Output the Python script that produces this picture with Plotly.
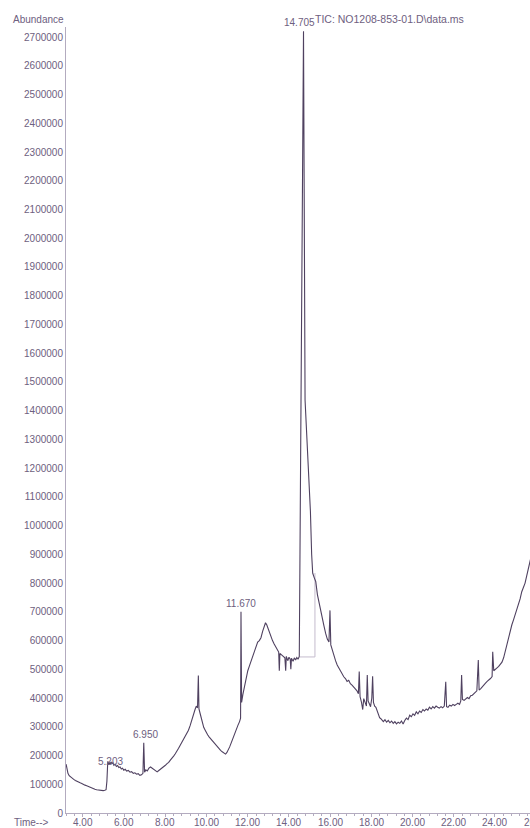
import plotly.graph_objects as go

# ---- data (time in min, abundance) ----
time_min = [
    3.18, 3.22, 3.27, 3.33, 3.40, 3.48, 3.55, 3.63, 3.70, 3.78, 3.86, 3.94,
    4.02, 4.10, 4.18, 4.26, 4.34, 4.42, 4.50, 4.58, 4.66, 4.74, 4.82, 4.90,
    4.98, 5.06, 5.12, 5.16, 5.19, 5.203, 5.24, 5.28, 5.32, 5.36, 5.40, 5.45,
    5.50, 5.56, 5.62, 5.68, 5.74, 5.80, 5.86, 5.92, 5.98, 6.05, 6.12, 6.20,
    6.28, 6.36, 6.44, 6.52, 6.60, 6.68, 6.76, 6.84, 6.91, 6.95, 6.99, 7.05,
    7.12, 7.20, 7.28, 7.36, 7.44, 7.52, 7.60, 7.68, 7.76, 7.84, 7.92, 8.00,
    8.08, 8.16, 8.24, 8.32, 8.40, 8.48, 8.56, 8.64, 8.72, 8.80, 8.88, 8.96,
    9.04, 9.12, 9.20, 9.28, 9.36, 9.44, 9.50, 9.56, 9.60, 9.63, 9.68, 9.74,
    9.80, 9.86, 9.92, 9.98, 10.05, 10.12, 10.20, 10.28, 10.36, 10.44, 10.52, 10.60,
    10.68, 10.76, 10.84, 10.92, 10.98, 11.05, 11.12, 11.20, 11.28, 11.36, 11.44, 11.52,
    11.60, 11.65, 11.67, 11.70, 11.76, 11.84, 11.92, 12.00, 12.08, 12.16, 12.24, 12.32,
    12.40, 12.48, 12.56, 12.64, 12.72, 12.80, 12.86, 12.92, 12.98, 13.05, 13.12, 13.20,
    13.28, 13.36, 13.44, 13.50, 13.53, 13.56, 13.64, 13.72, 13.80, 13.84, 13.87, 13.94,
    14.00, 14.06, 14.09, 14.12, 14.20, 14.26, 14.32, 14.38, 14.44, 14.50, 14.705, 14.78,
    14.95, 15.04, 15.10, 15.15, 15.22, 15.30, 15.38, 15.46, 15.54, 15.62, 15.70, 15.78,
    15.86, 15.94, 15.99, 16.03, 16.10, 16.18, 16.26, 16.34, 16.42, 16.50, 16.58, 16.66,
    16.74, 16.82, 16.90, 16.98, 17.06, 17.14, 17.22, 17.30, 17.37, 17.41, 17.45, 17.52,
    17.58, 17.63, 17.70, 17.76, 17.80, 17.84, 17.90, 17.96, 18.02, 18.06, 18.10, 18.16,
    18.22, 18.28, 18.34, 18.40, 18.46, 18.52, 18.58, 18.66, 18.74, 18.82, 18.90, 18.98,
    19.06, 19.14, 19.22, 19.30, 19.38, 19.46, 19.54, 19.62, 19.70, 19.78, 19.86, 19.94,
    20.02, 20.10, 20.18, 20.26, 20.34, 20.42, 20.50, 20.58, 20.66, 20.74, 20.82, 20.90,
    20.98, 21.06, 21.14, 21.22, 21.30, 21.38, 21.46, 21.54, 21.61, 21.65, 21.72, 21.80,
    21.88, 21.96, 22.04, 22.12, 22.20, 22.28, 22.34, 22.38, 22.42, 22.50, 22.58, 22.66,
    22.74, 22.82, 22.90, 22.98, 23.06, 23.12, 23.19, 23.23, 23.30, 23.38, 23.46, 23.54,
    23.62, 23.70, 23.78, 23.86, 23.89, 23.94, 24.02, 24.10, 24.18, 24.26, 24.34, 24.42,
    24.50, 24.58, 24.66, 24.74, 24.82, 24.90, 24.98, 25.06, 25.14, 25.22, 25.30, 25.38,
    25.46, 25.54, 25.62, 25.70, 25.78,
]
abundance = [
    170000, 150000, 138000, 130000, 125000, 120000, 117000, 113000, 110000, 108000, 105000, 103000,
    99000, 97000, 95000, 92000, 90000, 87000, 85000, 83000, 81000, 80000, 79000, 78000,
    78000, 79000, 81000, 110000, 160000, 180000, 168000, 176000, 170000, 178000, 172000, 175000,
    166000, 170000, 162000, 165000, 158000, 160000, 153000, 156000, 149000, 152000, 146000, 148000,
    142000, 144000, 138000, 140000, 135000, 137000, 131000, 133000, 138000, 244000, 142000, 150000,
    146000, 156000, 160000, 155000, 150000, 146000, 143000, 148000, 152000, 158000, 162000, 166000,
    172000, 176000, 184000, 190000, 198000, 206000, 214000, 225000, 236000, 246000, 258000, 270000,
    280000, 288000, 304000, 325000, 348000, 360000, 372000, 366000, 478000, 362000, 348000, 330000,
    312000, 298000, 290000, 280000, 272000, 265000, 258000, 250000, 242000, 236000, 230000, 224000,
    218000, 213000, 210000, 205000, 210000, 218000, 230000, 245000, 262000, 278000, 292000, 305000,
    318000, 330000, 700000, 385000, 412000, 440000, 470000, 495000, 512000, 528000, 545000, 560000,
    578000, 595000, 600000, 610000, 632000, 650000, 662000, 655000, 642000, 632000, 618000, 600000,
    588000, 578000, 568000, 560000, 495000, 555000, 550000, 545000, 540000, 495000, 545000, 530000,
    542000, 535000, 500000, 538000, 528000, 540000, 532000, 541000, 535000, 545000, 2720000, 1437000,
    1204000, 1050000, 900000, 835000, 820000, 805000, 760000, 730000, 705000, 680000, 650000, 625000,
    605000, 595000, 705000, 585000, 565000, 545000, 530000, 515000, 505000, 492000, 480000, 474000,
    468000, 458000, 462000, 450000, 445000, 440000, 432000, 425000, 415000, 492000, 405000, 385000,
    360000, 398000, 385000, 372000, 480000, 390000, 380000, 370000, 400000, 476000, 385000, 372000,
    368000, 355000, 340000, 332000, 328000, 322000, 318000, 325000, 316000, 322000, 314000, 320000,
    312000, 318000, 310000, 316000, 312000, 320000, 310000, 322000, 330000, 325000, 340000, 335000,
    345000, 340000, 352000, 345000, 355000, 350000, 360000, 355000, 362000, 358000, 368000, 362000,
    370000, 365000, 372000, 368000, 365000, 370000, 366000, 372000, 457000, 370000, 368000, 375000,
    372000, 378000, 374000, 378000, 382000, 378000, 390000, 480000, 395000, 392000, 398000, 402000,
    398000, 408000, 410000, 415000, 418000, 425000, 532000, 428000, 432000, 440000, 445000, 452000,
    458000, 462000, 468000, 475000, 561000, 495000, 502000, 505000, 510000, 518000, 525000, 540000,
    565000, 590000, 612000, 635000, 655000, 672000, 690000, 705000, 720000, 745000, 770000, 785000,
    800000, 825000, 850000, 875000, 900000,
]

# labelled peaks
peak_times = [5.203, 6.950, 11.670, 14.705]
peak_labels = ["5.203", "6.950", "11.670", "14.705"]
peak_abund = [180000, 244000, 700000, 2720000]

# integration baseline marks of the main peak
box_t = [14.50, 15.26, 15.26]
box_v = [543000, 543000, 835000]

x_ticks = [4, 6, 8, 10, 12, 14, 16, 18, 20, 22, 24]
x_cut_label = "26.00"
y_ticks = list(range(0, 2700001, 100000))

TXT = "#6e6080"
LINE = "#4f4160"
AX = "#b3abbf"
FONT = "Liberation Sans, Arial, sans-serif"

fig = go.Figure()
fig.add_trace(go.Scatter(x=box_t, y=box_v, mode="lines",
                         line=dict(color="#c4bccd", width=1), hoverinfo="skip"))
fig.add_trace(go.Scatter(x=time_min, y=abundance, mode="lines",
                         line=dict(color=LINE, width=1.1)))

ann = []
shifts = {"5.203": (3, 0, "middle"), "6.950": (2, 1, "bottom"),
          "11.670": (0, 1, "bottom"), "14.705": (-4, 1, "bottom")}
for t, lab, v in zip(peak_times, peak_labels, peak_abund):
    xs, ys, ya = shifts[lab]
    ann.append(dict(x=t, y=v, xref="x", yref="y", text=lab, showarrow=False,
                    xshift=xs, yshift=ys, yanchor=ya, xanchor="center",
                    font=dict(size=10, color=TXT, family=FONT)))

# x tick labels (placed as text just under the axis)
for t in x_ticks:
    ann.append(dict(x=t, y=-0.0127, xref="x", yref="paper", text=f"{t:.2f}",
                    showarrow=False, xanchor="center", yanchor="middle",
                    font=dict(size=10, color=TXT, family=FONT)))
# the 26.00 label sits past the right edge and is cut by the page
ann.append(dict(x=1.0135, y=-0.0127, xref="paper", yref="paper", text=x_cut_label,
                showarrow=False, xanchor="center", yanchor="middle",
                font=dict(size=10, color=TXT, family=FONT)))

ann.append(dict(x=0.698, y=1.0105, xref="paper", yref="paper",
                text="TIC: NO1208-853-01.D\\data.ms", showarrow=False,
                xanchor="center", yanchor="middle",
                font=dict(size=10.5, color=TXT, family=FONT)))
ann.append(dict(x=-0.0603, y=1.009, xref="paper", yref="paper",
                text="Abundance", showarrow=False, xanchor="center", yanchor="middle",
                font=dict(size=10, color=TXT, family=FONT)))
ann.append(dict(x=-0.0733, y=-0.0127, xref="paper", yref="paper",
                text="Time-->", showarrow=False, xanchor="center", yanchor="middle",
                font=dict(size=10, color=TXT, family=FONT)))

fig.update_layout(
    width=530, height=828,
    margin=dict(l=66, r=0, t=27, b=15),
    paper_bgcolor="white", plot_bgcolor="white",
    showlegend=False,
    font=dict(family=FONT, size=10, color=TXT),
    annotations=ann,
    xaxis=dict(range=[3.175, 25.70], tickvals=x_ticks + [26], showticklabels=False,
               showgrid=False, zeroline=False, showline=True, linecolor=AX, linewidth=1,
               ticks="outside", ticklen=3, tickcolor=AX,
               minor=dict(dtick=0.4, tick0=4, ticks="outside", ticklen=2, tickcolor=AX)),
    yaxis=dict(range=[0, 2735000], tickvals=y_ticks,
               ticktext=[str(v) for v in y_ticks],
               showgrid=False, zeroline=False, showline=True, linecolor=AX, linewidth=1,
               ticks="", tickfont=dict(size=10, color=TXT, family=FONT)),
)

fig.write_html(
    "out.html",
    config={"displayModeBar": False},
    post_script="document.body.style.margin='0';"
                "document.documentElement.style.overflow='hidden';"
                "document.body.style.overflow='hidden';",
)
